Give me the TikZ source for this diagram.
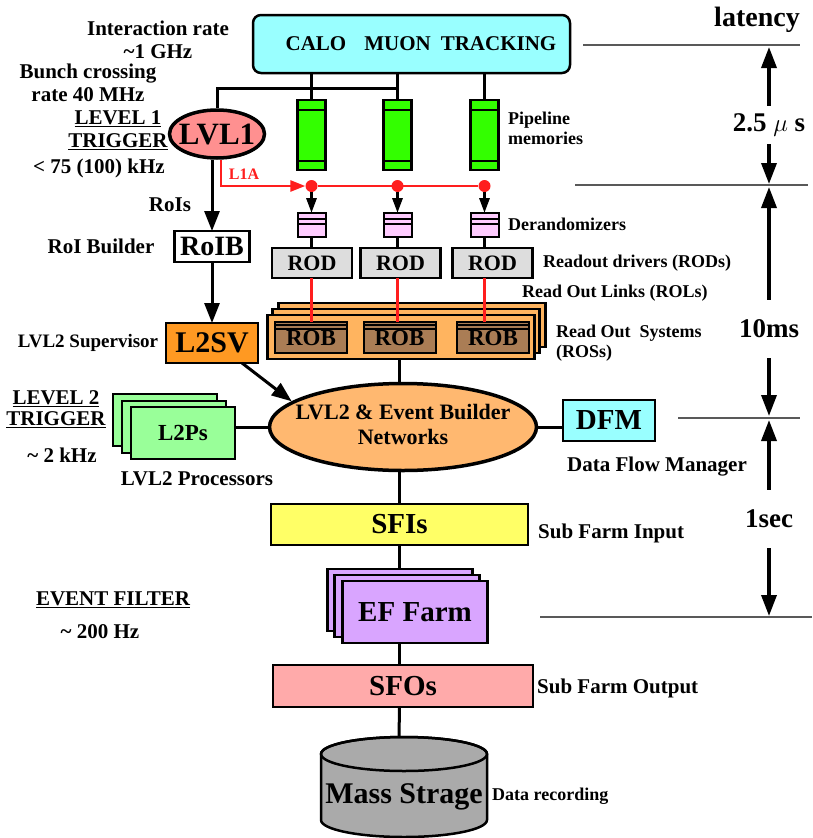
\documentclass[tikz,border=0pt]{standalone}
\usepackage{fontspec}
\setmainfont{Liberation Serif}
\usetikzlibrary{arrows.meta,shapes.geometric}
\definecolor{detcyan}{RGB}{153,255,255}
\definecolor{lvlred}{RGB}{255,144,144}
\definecolor{pipegreen}{RGB}{51,255,0}
\definecolor{derpink}{RGB}{255,204,255}
\definecolor{rodgray}{RGB}{221,221,221}
\definecolor{rosorange}{RGB}{255,180,95}
\definecolor{robbrown}{RGB}{170,125,85}
\definecolor{svorange}{RGB}{255,153,34}
\definecolor{netorange}{RGB}{255,184,112}
\definecolor{procgreen}{RGB}{153,255,153}
\definecolor{sfiyellow}{RGB}{255,255,102}
\definecolor{efviolet}{RGB}{217,165,255}
\definecolor{sfopink}{RGB}{255,170,170}
\definecolor{storegray}{RGB}{170,170,170}
\definecolor{l1ared}{RGB}{255,30,30}
\newcommand{\fsz}[2]{\fontsize{#1}{#2}\selectfont}

\begin{document}
\begin{tikzpicture}[x=1pt,y=-1pt,
    box/.style={draw, line width=2.5pt, outer sep=0pt, inner sep=0pt},
    link/.style={line width=3pt},
    redlink/.style={line width=2.7pt, draw=l1ared},
    arr/.style={link, -{Triangle[length=20pt,width=15pt]}},
    smallarr/.style={link, -{Triangle[length=15pt,width=10pt]}},
    axarr/.style={line width=3.5pt, -{Triangle[length=21pt,width=15pt]}},
    timeline/.style={line width=1.2pt, draw=black!65},
    lbl/.style={font=\bfseries\fsz{21}{23}, align=center, inner sep=0pt},
    sidenote/.style={font=\bfseries\fsz{18}{20}, align=left, anchor=west, inner sep=0pt},
    axlbl/.style={font=\bfseries\fsz{27}{27}, inner sep=0pt}]
    \useasboundingbox (0,0) rectangle (812,838);

    % detectors and level 1
    \node[box, rounded corners=8pt, fill=detcyan, minimum width=317pt, minimum height=58pt,
          font=\bfseries\fsz{21}{21}] (det) at (411.5,44)
          {\hspace*{19pt}CALO\hspace{18pt}MUON\hspace{10pt}TRACKING};
    \node[draw, ellipse, line width=3.5pt, fill=lvlred, minimum width=95pt, minimum height=48pt,
          inner sep=0pt, font=\bfseries\fsz{31}{31}] (lvl1) at (217,134) {\makebox[0pt]{LVL1}};
    \node[font=\bfseries\fsz{16}{16}, text=l1ared] (l1a) at (244,174) {L1A};

    % pipelines, derandomizers, RODs
    \foreach \x/\r [count=\i] in {311.5/312, 397.5/400.5, 484.5/492.5} {
        \node[box, fill=pipegreen, minimum width=28pt, minimum height=70pt] (pipe\i) at (\x,135) {};
        \draw[line width=1.5pt] ([yshift=-10pt]pipe\i.north west) -- ([yshift=-10pt]pipe\i.north east)
                                ([yshift=9pt]pipe\i.south west) -- ([yshift=9pt]pipe\i.south east);
        \node[circle, fill=l1ared, minimum size=12pt, inner sep=0pt] (dot\i) at (\x,186) {};
        \node[box, line width=2pt, fill=derpink, minimum width=28pt, minimum height=24pt] (der\i) at (\x,225) {};
        \draw[line width=1.2pt] ([yshift=-6pt]der\i.north west) -- ([yshift=-6pt]der\i.north east)
                                ([yshift=-11pt]der\i.north west) -- ([yshift=-11pt]der\i.north east);
        \node[box, fill=rodgray, minimum width=80pt, minimum height=30pt,
              font=\bfseries\fsz{22}{22}] (rod\i) at (\r,263) {ROD};
    }

    % read out systems
    \node[box, fill=rosorange, minimum width=267pt, minimum height=44pt] (rosc) at (412,325) {};
    \node[box, fill=rosorange, minimum width=267pt, minimum height=44pt] (rosb) at (406,331) {};
    \node[box, fill=rosorange, minimum width=267pt, minimum height=44pt] (ros) at (401,337) {};
    \foreach \b [count=\i] in {311, 399.5, 493} {
        \node[box, line width=2pt, fill=robbrown, minimum width=72pt, minimum height=31pt,
              font=\bfseries\fsz{23}{23}] (rob\i) at (\b,337.5) {\raisebox{-3pt}{ROB}};
        \draw[line width=1.2pt] ([yshift=-3pt]rob\i.north west) -- ([yshift=-3pt]rob\i.north east)
                                ([yshift=-7pt]rob\i.north west) -- ([yshift=-7pt]rob\i.north east);
    }

    % level 2
    \node[box, fill=white, minimum width=75pt, minimum height=31pt,
          font=\bfseries\fsz{28}{28}] (roib) at (212,246.5) {RoIB};
    \node[box, fill=svorange, minimum width=92pt, minimum height=40pt,
          font=\bfseries\fsz{30}{30}] (l2sv) at (212,343) {L2SV};
    \node[draw, ellipse, line width=3.5pt, fill=netorange, minimum width=267pt, minimum height=87pt,
          inner sep=0pt, font=\bfseries\fsz{22}{25}] (eb) at (403,427)
          {\makebox[0pt]{\begin{tabular}{@{}c@{}}LVL2 \& Event Builder\\Networks\end{tabular}}};
    \node[box, fill=procgreen, minimum width=104pt, minimum height=52pt] (l2pc) at (165,420) {};
    \node[box, fill=procgreen, minimum width=104pt, minimum height=52pt] (l2pb) at (174,427) {};
    \node[box, fill=procgreen, minimum width=104pt, minimum height=52pt,
          font=\bfseries\fsz{23}{23}] (l2p) at (183,433) {L2Ps};
    \node[box, fill=detcyan, minimum width=92pt, minimum height=41pt,
          font=\bfseries\fsz{29}{29}] (dfm) at (609,420.5) {DFM};

    % event filter and storage
    \node[box, fill=sfiyellow, minimum width=257pt, minimum height=41pt,
          font=\bfseries\fsz{29}{29}] (sfi) at (399.5,524.5) {SFIs};
    \node[box, fill=efviolet, minimum width=145pt, minimum height=62pt] (efc) at (400,600) {};
    \node[box, fill=efviolet, minimum width=145pt, minimum height=62pt] (efb) at (407,606) {};
    \node[box, fill=efviolet, minimum width=145pt, minimum height=62pt,
          font=\bfseries\fsz{29}{29}] (ef) at (415,612) {EF Farm};
    \node[box, fill=sfopink, minimum width=260pt, minimum height=42pt,
          font=\bfseries\fsz{29}{29}] (sfo) at (403,686) {SFOs};
    \filldraw[fill=storegray, line width=2.5pt] (321,754) -- (321,820)
        arc[start angle=180, end angle=0, x radius=83, y radius=17] -- (487,754)
        arc[start angle=0, end angle=-180, x radius=83, y radius=17] -- cycle;
    \draw[line width=2.5pt] (404,754) ellipse[x radius=83, y radius=17];
    \coordinate (mstop) at (399,737);
    \node[font=\bfseries\fsz{30}{30}] (ms) at (404,797) {Mass Strage};

    % labels
    \node[lbl] (irate) at (158,40) {Interaction rate\\\textasciitilde1 GHz};
    \node[lbl] (bx) at (88,83) {Bunch crossing\\rate 40 MHz};
    \node[lbl] (lvl1txt) at (118,130) {\underline{LEVEL 1}\\\underline{TRIGGER}};
    \node[lbl] (l1rate) at (99,168) {< 75 (100) kHz};
    \node[lbl] (rois) at (170,205) {RoIs};
    \node[lbl] (roibtxt) at (101,246) {RoI Builder};
    \node[lbl, font=\bfseries\fsz{19}{21}] (l2svtxt) at (88,343) {LVL2 Supervisor};
    \node[lbl, font=\bfseries\fsz{21}{21}] (lvl2txt) at (56,409) {\underline{LEVEL 2}\\\underline{TRIGGER}};
    \node[lbl] (l2rate) at (62,455) {\textasciitilde\ 2 kHz};
    \node[lbl] (l2ptxt) at (197,479) {LVL2 Processors};
    \node[lbl] (eftxt) at (113,600) {\underline{EVENT FILTER}};
    \node[lbl] (efrate) at (100,632) {\textasciitilde\ 200 Hz};
    \node[sidenote] (pipetxt) at (508,128) {Pipeline\\memories};
    \node[sidenote] (dertxt) at (508,224) {Derandomizers};
    \node[sidenote] (rodtxt) at (543,263) {Readout drivers (RODs)};
    \node[sidenote] (roltxt) at (522,293) {Read Out Links (ROLs)};
    \node[sidenote] (rostxt) at (556,343) {Read Out\ \ Systems\\(ROSs)};
    \node[lbl] (dfmtxt) at (657,467) {Data Flow Manager};
    \node[lbl, anchor=west] (sfitxt) at (538,533) {Sub Farm Input};
    \node[lbl, anchor=west] (sfotxt) at (537,688) {Sub Farm Output};
    \node[sidenote] (mstxt) at (492,796) {Data recording};

    % latency scale
    \node[font=\bfseries\fsz{28}{28}] (lat) at (757,20) {latency};
    \draw[timeline] (583,45) -- (800,45);
    \draw[timeline] (575,185) -- (808,185);
    \draw[timeline] (678,418) -- (800,418);
    \draw[timeline] (540,617) -- (812,617);
    \node[axlbl, minimum height=38pt] (t25) at (769,125) {2.5 $\mu$ s};
    \node[axlbl, minimum height=58pt] (t10) at (769,329) {10ms};
    \node[axlbl, minimum height=58pt] (t1s) at (769,519) {1sec};
    \coordinate (lat0) at (769,47);
    \coordinate (lat1a) at (769,184);
    \coordinate (lat1b) at (769,187);
    \coordinate (lat2a) at (769,416);
    \coordinate (lat2b) at (769,420);
    \coordinate (lat3) at (769,616);
    \draw[axarr] (t25.north) -- (lat0);
    \draw[axarr] (t25.south) -- (lat1a);
    \draw[axarr] (t10.north) -- (lat1b);
    \draw[axarr] (t10.south) -- (lat2a);
    \draw[axarr] (t1s.north) -- (lat2b);
    \draw[axarr] (t1s.south) -- (lat3);

    % connections
    \coordinate (trig) at (397.5,88);
    \foreach \i in {1,2,3} {
        \draw[link] (det.south -| pipe\i) -- (pipe\i.north);
        \draw[smallarr] (dot\i) -- (der\i.north);
        \draw[link] (der\i) -- (der\i |- rod\i.north);
        \draw[redlink] (der\i |- rod\i.south) -- (der\i |- rob\i.north);
    }
    \draw[link] (trig) -| (lvl1.north);
    \draw[redlink, -{Triangle[length=15pt,width=11pt]}] ([xshift=4pt]lvl1.south) |- (dot1);
    \draw[redlink] (dot1) -- (dot3);
    \path[arr]
        (lvl1.south -| roib) edge (roib.north)
        (roib) edge (l2sv)
        ([xshift=30pt]l2sv.south) edge (eb.167);
    \draw[link] (ros.south -| sfi) -- (eb.north -| sfi);
    \draw[link] (l2p.east |- eb.west) -- (eb.west);
    \draw[link] (eb.east) -- (eb.east -| dfm.west);
    \draw[link] (eb.south -| sfi) -- (sfi.north);
    \draw[link] (sfi.south) -- (sfi.south |- efc.north);
    \draw[link] (sfi |- ef.south) -- (sfi |- sfo.north);
    \draw[link] (sfo.south -| sfi) -- (mstop);
\end{tikzpicture}
\end{document}
